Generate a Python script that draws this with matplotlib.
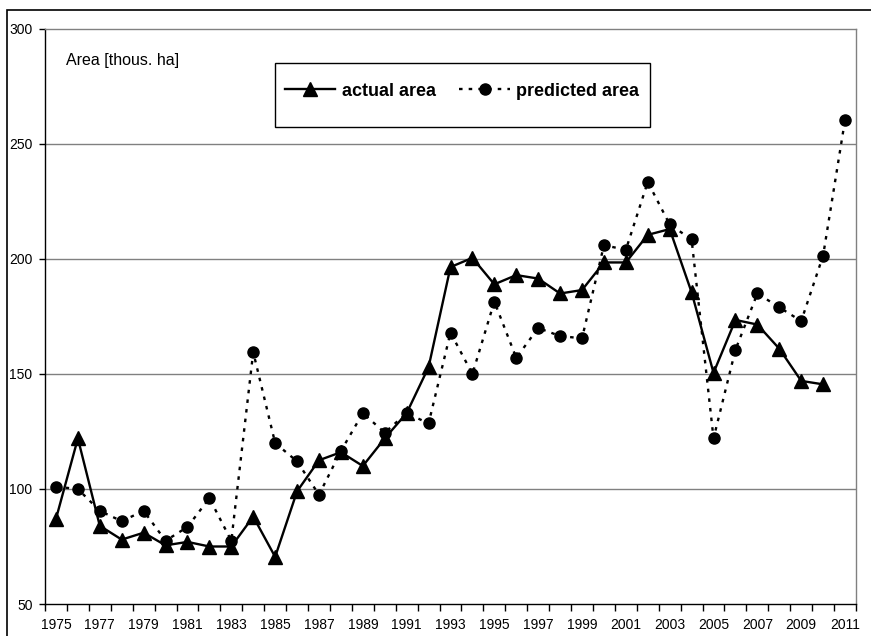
import matplotlib
matplotlib.use("Agg")
import matplotlib.pyplot as plt
from matplotlib.patches import Rectangle
from matplotlib.lines import Line2D
import numpy as np

plt.rcParams['font.family'] = ['Liberation Sans', 'DejaVu Sans']

years = list(range(1975, 2012))
actual_area = [87, 122, 84, 78, 81, 75.5, 77, 75, 75, 88, 70.5, 99, 112.5, 116, 110,
               122, 133, 153, 196.5, 200.5, 189, 193, 191.5, 185, 186.5, 198.5, 198.5,
               210.5, 213, 185.5, 150.5, 173.5, 171.5, 161, 147, 145.5]
predicted_area = [101, 100, 90.5, 86, 90.5, 77.5, 83.5, 96, 77.5, 159.5, 120, 112, 97.5,
                  116.5, 133, 124.5, 133, 128.5, 168, 150, 181.5, 157, 170, 166.5, 165.5,
                  206, 204, 233.5, 215, 208.5, 122, 160.5, 185, 179, 173, 201.5, 260.5]
y_ticks = [50, 100, 150, 200, 250, 300]
y_label = "Area [thous. ha]"
series_names = ["actual area", "predicted area"]

W, H = 871, 636
fig = plt.figure(figsize=(W / 100, H / 100), dpi=100)
ax = fig.add_axes([45 / W, (H - 604) / H, 811 / W, 575 / H])

x_act = np.arange(len(actual_area))
x_pred = np.arange(len(predicted_area))

for yv in y_ticks[1:-1]:
    ax.axhline(yv, color='#808080', lw=1.0, zorder=1)

ax.plot(x_act, actual_area, color='black', lw=1.7, marker='^', markersize=9.5,
        zorder=3, solid_joinstyle='miter')
ax.plot(x_pred, predicted_area, color='black', lw=1.7, linestyle=(0, (1.5, 2.6)),
        marker='o', markersize=8, zorder=4)

ax.set_xlim(-0.5, len(years) - 0.5)
ax.set_ylim(50, 300)
ax.set_yticks(y_ticks)
ax.set_yticklabels([str(v) for v in y_ticks])

ax.set_xticks(np.arange(0, len(years), 2))
ax.set_xticklabels([str(y) for y in years[::2]])
ax.set_xticks(np.arange(-0.5, len(years), 1), minor=True)
ax.tick_params(axis='x', which='major', length=0, pad=10, labelsize=10)
ax.tick_params(axis='x', which='minor', length=5, width=1, direction='out', color='black')
ax.tick_params(axis='y', which='major', length=4, width=1, direction='out', pad=5,
               labelsize=10)

ax.spines['left'].set_color('black')
ax.spines['bottom'].set_color('black')
ax.spines['top'].set_color('#808080')
ax.spines['right'].set_color('#808080')
for s in ax.spines.values():
    s.set_linewidth(1.0)

ax.text(66 / W, 1 - 60 / H, y_label, transform=fig.transFigure, fontsize=11.5,
        va='center', ha='left')

# legend
h1 = Line2D([], [], color='black', lw=1.7, marker='^', markersize=9.5)
h2 = Line2D([], [], color='black', lw=1.7, linestyle=(0, (1.5, 2.6)), marker='o',
            markersize=8)
leg = fig.legend([h1, h2], series_names, loc='center', ncol=2,
                 bbox_to_anchor=(462 / W, 1 - 91 / H), frameon=False,
                 prop={'weight': 'bold', 'size': 13}, handlelength=2.8,
                 handletextpad=0.35, columnspacing=1.3)
fig.add_artist(Rectangle((275 / W, 1 - 127 / H), 375 / W, 64 / H,
                         transform=fig.transFigure, fill=False, ec='black', lw=1.0))

# outer chart frame
fig.add_artist(Rectangle((7 / W, -0.2), 1.5, 1.2 - 10 / H, transform=fig.transFigure,
                         fill=False, ec='black', lw=1.2))

fig.savefig("out.png", dpi=100)
